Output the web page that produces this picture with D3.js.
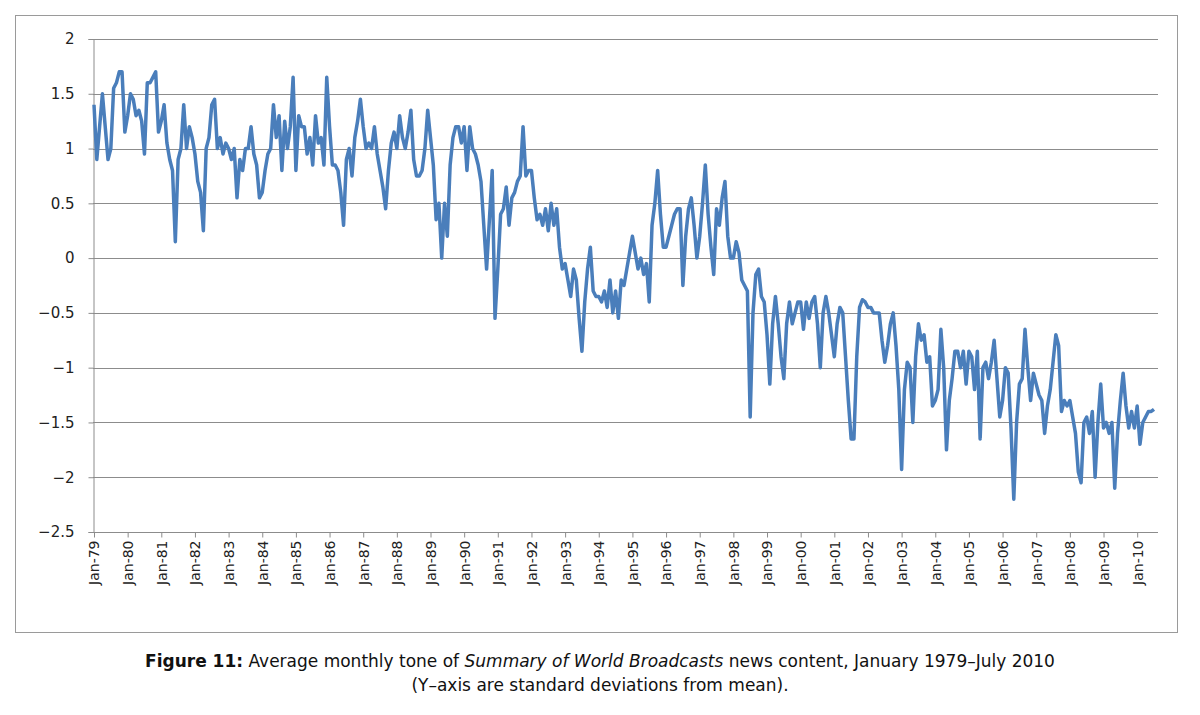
<!DOCTYPE html>
<html><head><meta charset="utf-8">
<script src="https://cdn.jsdelivr.net/npm/d3@7"></script>
<style>
body{margin:0;background:#fff;font-family:"DejaVu Sans",Verdana,sans-serif;}
.caption{position:absolute;left:0;width:1200px;top:649px;text-align:center;font-size:17px;line-height:24px;color:#111;}
</style></head><body>
<svg id="chart" width="1200" height="640"></svg>
<div class="caption"><b>Figure 11:</b> Average monthly tone of <i>Summary of World Broadcasts</i> news content, January 1979–July 2010<br>(Y–axis are standard deviations from mean).</div>
<script>
const yTicks = [2, 1.5, 1, 0.5, 0, -0.5, -1, -1.5, -2, -2.5];
const years = d3.range(1979, 2011);
const xLabels = years.map((yr) => 'Jan-' + String(yr).slice(2));

// monthly tone values, one row per year (2010 ends July)
const tone1979 = [1.4,0.9,1.2,1.5,1.2,0.9,1.0,1.55,1.6,1.7,1.7,1.15];
const tone1980 = [1.3,1.5,1.45,1.3,1.35,1.25,0.95,1.6,1.6,1.65,1.7,1.15];
const tone1981 = [1.25,1.4,1.05,0.9,0.8,0.15,0.9,1.0,1.4,1.0,1.2,1.1];
const tone1982 = [0.95,0.7,0.6,0.25,1.0,1.1,1.4,1.45,1.0,1.1,0.95,1.05];
const tone1983 = [1.0,0.9,1.0,0.55,0.9,0.8,1.0,1.0,1.2,0.95,0.85,0.55];
const tone1984 = [0.6,0.8,0.95,1.0,1.4,1.1,1.3,0.8,1.25,1.0,1.2,1.65];
const tone1985 = [0.8,1.3,1.2,1.2,0.95,1.1,0.85,1.3,1.05,1.1,0.85,1.65];
const tone1986 = [1.2,0.85,0.85,0.8,0.6,0.3,0.9,1.0,0.75,1.1,1.25,1.45];
const tone1987 = [1.2,1.0,1.05,1.0,1.2,0.95,0.8,0.65,0.45,0.8,1.05,1.15];
const tone1988 = [1.0,1.3,1.1,1.0,1.15,1.35,0.9,0.75,0.75,0.8,1.0,1.35];
const tone1989 = [1.1,0.85,0.35,0.5,0.0,0.5,0.2,0.85,1.1,1.2,1.2,1.05];
const tone1990 = [1.2,0.8,1.2,1.0,0.95,0.85,0.7,0.3,-0.1,0.35,0.8,-0.55];
const tone1991 = [-0.1,0.4,0.45,0.65,0.3,0.55,0.6,0.7,0.75,1.2,0.75,0.8];
const tone1992 = [0.8,0.55,0.35,0.4,0.3,0.45,0.25,0.5,0.3,0.45,0.1,-0.1];
const tone1993 = [-0.05,-0.2,-0.35,-0.1,-0.2,-0.55,-0.85,-0.4,-0.1,0.1,-0.3,-0.35];
const tone1994 = [-0.35,-0.4,-0.3,-0.45,-0.2,-0.5,-0.3,-0.55,-0.2,-0.25,-0.1,0.05];
const tone1995 = [0.2,0.05,-0.1,0.0,-0.15,-0.05,-0.4,0.3,0.5,0.8,0.4,0.1];
const tone1996 = [0.1,0.2,0.3,0.4,0.45,0.45,-0.25,0.2,0.45,0.55,0.3,0.0];
const tone1997 = [0.2,0.5,0.85,0.4,0.1,-0.15,0.45,0.3,0.55,0.7,0.2,0.0];
const tone1998 = [0.0,0.15,0.05,-0.2,-0.25,-0.3,-1.45,-0.5,-0.15,-0.1,-0.35,-0.4];
const tone1999 = [-0.7,-1.15,-0.6,-0.35,-0.6,-0.9,-1.1,-0.6,-0.4,-0.6,-0.5,-0.4];
const tone2000 = [-0.4,-0.65,-0.4,-0.55,-0.4,-0.35,-0.6,-1.0,-0.5,-0.35,-0.5,-0.7];
const tone2001 = [-0.9,-0.6,-0.45,-0.5,-0.9,-1.3,-1.65,-1.65,-0.9,-0.45,-0.38,-0.4];
const tone2002 = [-0.45,-0.45,-0.5,-0.5,-0.5,-0.75,-0.95,-0.8,-0.6,-0.5,-0.8,-1.2];
const tone2003 = [-1.93,-1.2,-0.95,-1.0,-1.5,-0.9,-0.6,-0.75,-0.7,-0.95,-0.9,-1.35];
const tone2004 = [-1.3,-1.2,-0.65,-1.0,-1.75,-1.3,-1.1,-0.85,-0.85,-1.0,-0.85,-1.15];
const tone2005 = [-0.85,-0.9,-1.2,-0.85,-1.65,-1.0,-0.95,-1.1,-0.95,-0.75,-1.1,-1.45];
const tone2006 = [-1.3,-1.0,-1.05,-1.55,-2.2,-1.5,-1.15,-1.1,-0.65,-1.0,-1.3,-1.05];
const tone2007 = [-1.15,-1.25,-1.3,-1.6,-1.35,-1.2,-0.95,-0.7,-0.8,-1.4,-1.3,-1.35];
const tone2008 = [-1.3,-1.45,-1.6,-1.95,-2.05,-1.5,-1.45,-1.6,-1.4,-2.0,-1.5,-1.15];
const tone2009 = [-1.55,-1.5,-1.6,-1.5,-2.1,-1.6,-1.3,-1.05,-1.35,-1.55,-1.4,-1.55];
const tone2010 = [-1.35,-1.7,-1.5,-1.45,-1.4,-1.4,-1.38];

const tone = [].concat(tone1979, tone1980, tone1981, tone1982, tone1983, tone1984, tone1985,
  tone1986, tone1987, tone1988, tone1989, tone1990, tone1991, tone1992, tone1993, tone1994,
  tone1995, tone1996, tone1997, tone1998, tone1999, tone2000, tone2001, tone2002, tone2003,
  tone2004, tone2005, tone2006, tone2007, tone2008, tone2009, tone2010);

const svg = d3.select('#chart');
svg.append('rect').attr('x', 15.5).attr('y', 15.5).attr('width', 1162).attr('height', 617)
  .attr('fill', '#fff').attr('stroke', '#9a9a9a');

const plot = { left: 93, right: 1158, top: 39, bottom: 532 };
const x = d3.scaleLinear().domain([0, tone.length - 1]).range([plot.left + 1, plot.right - 4]);
const y = d3.scaleLinear().domain([-2.5, 2]).range([plot.bottom, plot.top]);

// gridlines
svg.append('g').selectAll('line').data(yTicks).join('line')
  .attr('x1', plot.left).attr('x2', plot.right)
  .attr('y1', (d) => Math.round(y(d)) + 0.5).attr('y2', (d) => Math.round(y(d)) + 0.5)
  .attr('stroke', '#8c8c8c').attr('stroke-width', 1);

const yAxis = svg.append('g').attr('transform', `translate(${plot.left + 0.5},0)`)
  .call(d3.axisLeft(y).tickValues(yTicks).tickSize(5).tickPadding(14).tickFormat(d3.format('')));
yAxis.select('.domain').attr('stroke', '#8c8c8c');
yAxis.selectAll('line').attr('stroke', '#8c8c8c');
yAxis.selectAll('text').attr('font-size', 15).attr('font-family', 'DejaVu Sans, sans-serif').attr('fill', '#222');

const xAxis = svg.append('g').attr('transform', `translate(0,${plot.bottom + 0.5})`)
  .call(d3.axisBottom(x).tickValues(years.map((yr, i) => i * 12)).tickSize(5).tickFormat((d, i) => xLabels[i]));
xAxis.select('.domain').remove();
xAxis.selectAll('line').attr('stroke', '#8c8c8c');
xAxis.selectAll('text').attr('font-size', 14).attr('font-family', 'DejaVu Sans, sans-serif').attr('fill', '#222')
  .attr('text-anchor', 'end').attr('dy', '0.35em')
  .attr('transform', 'translate(0,8) rotate(-90)').attr('x', 0).attr('y', 0);

svg.append('path').datum(tone)
  .attr('fill', 'none').attr('stroke', '#4a7ebb').attr('stroke-width', 3.5)
  .attr('stroke-linejoin', 'round')
  .attr('d', d3.line().x((d, i) => x(i)).y((d) => y(d)));
</script>
</body></html>
